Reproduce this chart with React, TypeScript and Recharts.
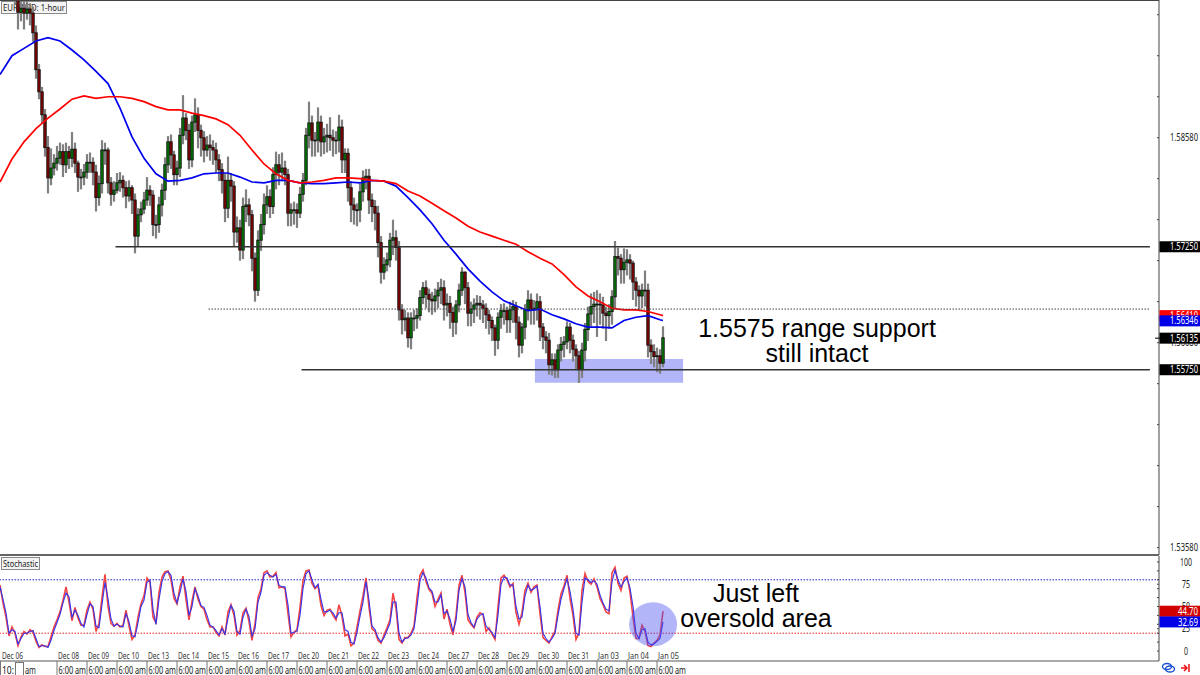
import React from 'react';
import {
  ComposedChart,
  Bar,
  Line,
  XAxis,
  YAxis,
  ReferenceLine,
  ReferenceArea,
  ReferenceDot,
} from 'recharts';

// rates x 10000, one hourly-ish candle per slot
const opens = [
  16045,16043,16041,16038,16038,16036,16033,16011,16016,16010,
  16015,16010,15986,15941,15914,15886,15846,15809,15821,15827,
  15833,15841,15825,15841,15833,15844,15827,15810,15810,15816,
  15828,15828,15816,15785,15802,15843,15843,15803,15789,15794,
  15803,15806,15797,15787,15797,15782,15738,15764,15771,15782,
  15794,15788,15752,15752,15776,15794,15825,15853,15837,15813,
  15821,15861,15882,15867,15831,15877,15886,15867,15858,15843,
  15849,15846,15843,15831,15819,15806,15772,15806,15799,15743,
  15748,15721,15774,15776,15764,15711,15672,15733,15752,15776,
  15786,15774,15813,15825,15816,15821,15813,15766,15770,15770,
  15766,15789,15806,15861,15876,15855,15855,15877,15853,15859,
  15861,15858,15855,15855,15871,15831,15839,15797,15776,15770,
  15770,15792,15809,15811,15782,15774,15766,15730,15694,15703,
  15709,15733,15736,15724,15648,15636,15638,15614,15638,15638,
  15641,15663,15675,15667,15661,15659,15665,15672,15675,15654,
  15656,15645,15633,15654,15672,15694,15675,15644,15649,15654,
  15656,15654,15650,15642,15635,15626,15611,15639,15647,15647,
  15636,15648,15652,15633,15605,15627,15648,15660,15648,15650,
  15658,15627,15615,15611,15581,15587,15575,15599,15606,15609,
  15627,15611,15600,15592,15575,15599,15624,15643,15652,15655,
  15655,15654,15644,15641,15646,15664,15713,15711,15697,15706,
  15709,15705,15682,15672,15665,15672,15672,15605,15597,15591,
  15592,15583,
];
const closes = [
  16043,16041,16038,16038,16036,16033,16011,16016,16010,16015,
  16010,15986,15941,15914,15886,15846,15809,15821,15827,15833,
  15841,15825,15841,15833,15844,15827,15810,15810,15816,15828,
  15828,15816,15785,15802,15843,15843,15803,15789,15794,15803,
  15806,15797,15787,15797,15782,15738,15764,15771,15782,15794,
  15788,15752,15752,15776,15794,15825,15853,15837,15813,15821,
  15861,15882,15867,15831,15877,15886,15867,15858,15843,15849,
  15846,15843,15831,15819,15806,15772,15806,15799,15743,15748,
  15721,15774,15776,15764,15711,15672,15733,15752,15776,15786,
  15774,15813,15825,15816,15821,15813,15766,15770,15770,15766,
  15789,15806,15861,15876,15855,15855,15877,15853,15859,15861,
  15858,15855,15855,15871,15831,15839,15797,15776,15770,15770,
  15792,15809,15811,15782,15774,15766,15730,15694,15703,15709,
  15733,15736,15724,15648,15636,15638,15614,15638,15638,15641,
  15663,15675,15667,15661,15659,15665,15672,15675,15654,15656,
  15645,15633,15654,15672,15694,15675,15644,15649,15654,15656,
  15654,15650,15642,15635,15626,15611,15639,15647,15647,15636,
  15648,15652,15633,15605,15627,15648,15660,15648,15650,15658,
  15627,15615,15611,15581,15587,15575,15599,15606,15609,15627,
  15611,15600,15592,15575,15599,15624,15643,15652,15655,15655,
  15654,15644,15641,15646,15664,15713,15711,15697,15706,15709,
  15705,15682,15672,15665,15672,15672,15605,15597,15591,15592,
  15583,15614,
];
const highs = [
  16050,16048,16046,16045,16043,16040,16040,16026,16025,16026,
  16022,16018,15995,15948,15920,15893,15860,15845,15838,15848,
  15852,15850,15852,15848,15865,15852,15830,15820,15826,15838,
  15840,15834,15825,15812,15855,15852,15846,15810,15805,15815,
  15816,15812,15805,15806,15800,15790,15772,15780,15792,15810,
  15800,15794,15764,15786,15802,15834,15860,15862,15842,15830,
  15870,15910,15888,15875,15885,15906,15895,15874,15866,15860,
  15862,15855,15852,15838,15827,15815,15835,15815,15805,15762,
  15758,15785,15795,15784,15770,15718,15745,15765,15790,15800,
  15795,15822,15841,15838,15840,15830,15820,15778,15780,15778,
  15798,15815,15870,15902,15885,15865,15895,15885,15870,15875,
  15883,15868,15866,15886,15880,15845,15845,15805,15785,15778,
  15802,15818,15820,15820,15790,15782,15775,15738,15712,15718,
  15742,15758,15745,15732,15655,15648,15645,15645,15648,15650,
  15672,15682,15684,15674,15670,15674,15682,15686,15684,15668,
  15665,15652,15660,15680,15700,15695,15682,15658,15662,15666,
  15665,15660,15656,15648,15640,15630,15645,15655,15656,15652,
  15658,15660,15658,15640,15632,15655,15672,15668,15660,15668,
  15665,15632,15622,15620,15595,15595,15606,15615,15616,15634,
  15632,15618,15606,15598,15608,15632,15652,15668,15670,15672,
  15668,15664,15652,15655,15672,15732,15724,15716,15723,15722,
  15716,15708,15688,15678,15680,15696,15680,15612,15606,15602,
  15600,15628,
];
const lows = [
  16030,16030,16028,16028,16026,16020,15990,16000,15990,16002,
  15995,15975,15930,15905,15875,15835,15790,15800,15812,15818,
  15825,15810,15815,15820,15822,15815,15792,15795,15800,15808,
  15815,15800,15768,15775,15790,15825,15790,15775,15780,15790,
  15792,15785,15772,15780,15765,15717,15725,15755,15765,15775,
  15775,15738,15735,15742,15762,15782,15815,15820,15800,15800,
  15810,15850,15855,15820,15822,15865,15845,15835,15828,15835,
  15830,15825,15815,15805,15790,15755,15760,15780,15725,15730,
  15708,15710,15755,15750,15695,15658,15665,15720,15740,15765,
  15760,15765,15795,15800,15805,15800,15750,15750,15752,15748,
  15760,15780,15800,15845,15835,15835,15840,15835,15838,15840,
  15842,15835,15838,15840,15815,15815,15780,15755,15752,15750,
  15755,15780,15795,15765,15755,15745,15712,15680,15685,15695,
  15700,15715,15708,15635,15618,15622,15602,15600,15622,15625,
  15635,15655,15650,15645,15642,15645,15650,15655,15635,15640,
  15625,15615,15618,15645,15665,15655,15628,15628,15632,15640,
  15636,15632,15625,15618,15610,15592,15600,15625,15630,15620,
  15620,15632,15612,15590,15595,15612,15635,15630,15630,15635,
  15610,15600,15595,15569,15568,15565,15565,15585,15590,15600,
  15595,15585,15575,15559,15565,15585,15610,15628,15632,15615,
  15630,15625,15610,15625,15630,15650,15690,15680,15680,15690,
  15685,15660,15652,15648,15650,15652,15590,15582,15578,15572,
  15570,15578,
];

// moving averages, one reading every fourth slot plus the last slot
const maBlue = [
  15935,15958,15967,15976,15980,15976,15965,15953,15939,15924,
  15894,15859,15833,15814,15805,15806,15809,15814,15815,15815,
  15810,15804,15803,15806,15806,15803,15802,15802,15803,15804,
  15803,15806,15805,15799,15785,15770,15753,15733,15716,15698,
  15683,15670,15659,15653,15647,15649,15642,15637,15631,15627,
  15627,15626,15635,15639,15641,15636,15635,
];
const maRed = [
  15804,15832,15853,15869,15882,15893,15905,15909,15906,15908,
  15908,15906,15902,15896,15892,15892,15888,15885,15881,15874,
  15861,15843,15826,15814,15806,15803,15804,15806,15809,15809,
  15808,15806,15805,15802,15793,15787,15778,15769,15760,15750,
  15743,15738,15733,15728,15719,15711,15704,15691,15676,15665,
  15658,15650,15648,15648,15646,15642,15641,
];

const stochBlue = [
  72,58,43,20,24,22,8,14,20,20,
  22,23,14,5,6,6,4,12,23,32,
  41,54,65,61,38,46,40,31,27,41,
  53,50,28,26,52,77,59,36,28,30,
  28,27,42,33,17,16,32,50,57,77,
  80,47,30,58,78,87,89,85,65,54,
  66,81,67,40,50,70,62,51,49,40,
  29,27,23,18,25,19,37,51,45,22,
  19,38,47,39,17,25,55,66,85,88,
  85,83,86,74,72,72,52,20,21,22,
  40,70,87,90,80,71,75,58,44,44,
  46,43,37,43,43,24,22,10,8,21,
  39,55,78,57,28,24,15,10,15,23,
  31,55,55,20,10,14,15,18,25,50,
  79,88,82,71,67,55,55,63,42,45,
  36,22,34,68,81,72,41,32,27,36,
  40,42,28,24,21,15,40,75,83,82,
  74,74,50,36,38,62,74,68,70,73,
  50,20,14,10,14,20,40,58,70,81,
  67,47,20,18,55,82,80,77,79,75,
  63,54,47,45,78,91,80,72,78,82,
  71,50,20,14,24,25,10,7,8,11,
  14,32.69,
];
const stochRed = [
  74,54,38,17,27,20,6,16,22,19,
  24,21,11,4,7,5,5,16,27,35,
  44,57,72,55,34,49,37,29,29,46,
  55,47,22,31,60,86,50,31,28,31,
  27,29,46,28,13,18,38,53,62,82,
  77,38,32,66,83,89,90,80,59,53,
  72,84,58,35,56,72,58,50,47,35,
  27,27,21,17,27,18,44,52,40,18,
  23,43,48,33,12,31,60,70,88,90,
  83,84,88,71,72,70,42,16,21,24,
  49,79,90,91,76,70,74,51,40,46,
  47,40,35,52,39,17,19,6,9,27,
  45,62,82,49,25,22,12,9,18,26,
  35,65,48,13,9,15,15,20,28,60,
  85,91,78,69,65,50,58,65,36,47,
  30,18,40,74,85,66,35,30,26,38,
  43,41,22,26,19,13,50,82,85,80,
  72,76,43,30,43,68,76,66,72,74,
  42,15,12,9,16,22,46,64,73,85,
  59,40,13,20,68,87,78,75,81,72,
  59,52,44,42,88,94,76,68,82,84,
  66,38,14,14,29,22,6,5,9,12,
  18,44.7,
];

const dateSlots = [1, 19, 29, 39, 49, 59, 69, 79, 89, 99, 109, 119, 129, 139, 149, 159, 169, 179, 189, 199, 209, 219];
const dateLabels = [
  'Dec 06', 'Dec 08', 'Dec 09', 'Dec 10', 'Dec 13', 'Dec 14', 'Dec 15', 'Dec 16', 'Dec 17', 'Dec 20', 'Dec 21',
  'Dec 22', 'Dec 23', 'Dec 24', 'Dec 27', 'Dec 28', 'Dec 29', 'Dec 30', 'Dec 31', 'Jan 03', 'Jan 04', 'Jan 05',
];

const priceTicks = [1.6008, 1.5958, 1.5908, 1.5858, 1.5808, 1.5758, 1.5708, 1.5658, 1.5608, 1.5558, 1.5508, 1.5458, 1.5408, 1.5358];
const priceLabelled = [1.5858, 1.5608, 1.5358];
const priceBadges = [
  { value: 1.5725, text: '1.57250', fill: '#000000' },
  { value: 1.5575, text: '1.55750', fill: '#000000' },
  { value: 1.5641, text: '1.56410', fill: '#ff0000' },
  { value: 1.56346, text: '1.56346', fill: '#0000e6' },
  { value: 1.56135, text: '1.56135', fill: '#000000' },
];
const stochTicks = [100, 90, 80, 75, 70, 60, 50, 40, 30, 25, 20, 10, 0];
const stochLabelled = [100, 75, 50, 25, 0];
const stochBadges = [
  { value: 44.7, text: '44.70', fill: '#d00000' },
  { value: 32.69, text: '32.69', fill: '#0000e6' },
];

const candleRows = closes.map((close, i) => ({
  idx: i,
  open: opens[i] / 10000,
  close: close / 10000,
  high: highs[i] / 10000,
  low: lows[i] / 10000,
  range: [lows[i] / 10000, highs[i] / 10000],
}));
const maRows = maBlue.map((v, i) => ({
  idx: Math.min(i * 4, 221),
  blue: v / 10000,
  red: maRed[i] / 10000,
}));
const stochRows = stochBlue.map((v, i) => ({ idx: i, blue: v, red: stochRed[i] }));

const FONT = '"Noto Sans", sans-serif';
const X_DOMAIN: [number, number] = [0, 386.33];

function Candle(props: any) {
  const { x, y, width, height, payload } = props;
  const perUnit = height / (payload.high - payload.low);
  const top = y + (payload.high - Math.max(payload.open, payload.close)) * perUnit;
  const bodyH = Math.max(Math.abs(payload.open - payload.close) * perUnit, 0.8);
  const cx = x + width / 2;
  const up = payload.close >= payload.open;
  return (
    <g>
      <line x1={cx} x2={cx} y1={y} y2={y + height} stroke="#808080" strokeWidth={2.2} />
      <rect x={cx - 1.2} y={top} width={2.4} height={bodyH} fill={up ? '#008000' : '#8c0000'} stroke="#101010" strokeWidth={0.9} />
    </g>
  );
}

// the platform's font is narrow, so axis texts are squeezed to its widths
function AxisText({ x, y, anchor, fill, children }: any) {
  return (
    <text
      x={x}
      y={y}
      textAnchor={anchor}
      fontSize={10}
      fontFamily={FONT}
      fill={fill}
      textLength={String(children).length * 4}
      lengthAdjust="spacingAndGlyphs"
    >
      {children}
    </text>
  );
}

function AxisBadge({ x, y, text, fill }: any) {
  return (
    <g>
      <rect x={x + 0.5} y={y - 5.5} width={41} height={11} fill={fill} />
      <AxisText x={x + 39} y={y + 3.6} anchor="end" fill="#ffffff">{text}</AxisText>
    </g>
  );
}

function PriceTick(props: any) {
  const { x, y, payload } = props;
  const badge = priceBadges.find((b) => b.value === payload.value);
  if (badge) {
    return (
      <g>
        {badge.value === 1.56135 && <line x1={x - 4} x2={x + 2} y1={y} y2={y} stroke="#000" />}
        <AxisBadge x={x} y={y} text={badge.text} fill={badge.fill} />
      </g>
    );
  }
  return (
    <g>
      <line x1={x - 2} x2={x} y1={y} y2={y} stroke="#444" />
      {priceLabelled.includes(payload.value) && (
        <AxisText x={x + 39} y={y + 3.6} anchor="end" fill="#222">{payload.value.toFixed(5)}</AxisText>
      )}
    </g>
  );
}

function StochTick(props: any) {
  const { x, y, payload } = props;
  const badge = stochBadges.find((b) => b.value === payload.value);
  if (badge) return <AxisBadge x={x} y={y} text={badge.text} fill={badge.fill} />;
  return (
    <g>
      <line x1={x - 2} x2={x} y1={y} y2={y} stroke="#444" />
      {stochLabelled.includes(payload.value) && (
        <AxisText x={x + 27} y={y + 3.6} anchor="middle" fill="#222">{payload.value}</AxisText>
      )}
    </g>
  );
}

function TimeTick(props: any) {
  const { x, y, index } = props;
  const first = index === 0;
  return (
    <g fontFamily={FONT} fill="#222">
      <text x={x - (first ? 1 : -1)} y={y - 2} fontSize={9} fill="#333" textLength={21} lengthAdjust="spacingAndGlyphs">
        {dateLabels[index]}
      </text>
      {first ? (
        <g>
          <text x={2} y={y + 12.5} fontSize={10} textLength={12} lengthAdjust="spacingAndGlyphs">10:</text>
          <rect x={15.5} y={y + 1.5} width={8} height={13} fill="#fff" stroke="#777" strokeWidth={1} />
          <text x={25} y={y + 12.5} fontSize={10} textLength={11} lengthAdjust="spacingAndGlyphs">am</text>
          <line x1={0.5} x2={0.5} y1={y} y2={y + 15} stroke="#777" />
        </g>
      ) : (
        <g>
          <line x1={x} x2={x} y1={y} y2={y + 15} stroke="#777" />
          <text x={x + 1.5} y={y + 12.5} fontSize={10} textLength={27.5} lengthAdjust="spacingAndGlyphs">6:00 am</text>
        </g>
      )}
    </g>
  );
}

function PanelTag({ left, top, width, length, text }: any) {
  return (
    <svg style={{ position: 'absolute', left, top }} width={width} height={13}>
      <rect x={0.5} y={0.5} width={width - 1} height={12} fill="#f4f4f4" stroke="#8a8a8a" />
      <text x={2} y={9.6} fontSize={9.5} fontFamily={FONT} fill="#222" textLength={length} lengthAdjust="spacingAndGlyphs">
        {text}
      </text>
    </svg>
  );
}

const Blob = (props: any) => (
  <ellipse cx={props.cx} cy={props.cy} rx={24} ry={22} fill="#4a4ff0" fillOpacity={0.42} />
);

const noteStyle: React.CSSProperties = {
  position: 'absolute',
  textAlign: 'center',
  fontFamily: '"Liberation Sans", Arial, sans-serif',
  fontSize: 25,
  lineHeight: '25px',
  color: '#000',
  whiteSpace: 'nowrap',
};

export default function App() {
  return (
    <div style={{ position: 'absolute', left: 0, top: 0, width: 1200, height: 675, overflow: 'hidden', background: '#fff' }}>
      <PanelTag left={1} top={1} width={66} length={62} text="EUR/NZD: 1-hour" />
      <PanelTag left={1} top={557} width={39} length={35} text="Stochastic" />

      <div style={{ position: 'absolute', left: 0, top: 0 }}>
        <ComposedChart width={1200} height={556} data={candleRows} margin={{ top: 0, right: 0, bottom: 0, left: 0 }}>
          <XAxis
            dataKey="idx"
            type="number"
            domain={X_DOMAIN}
            allowDataOverflow
            height={1}
            tick={false}
            tickLine={false}
            axisLine={{ stroke: '#666', strokeWidth: 2 }}
          />
          <YAxis
            orientation="right"
            width={41}
            domain={[1.5349, 1.6026]}
            allowDataOverflow
            ticks={[...priceTicks, ...priceBadges.map((b) => b.value)]}
            interval={0}
            tick={PriceTick}
            tickLine={false}
            tickSize={0}
            tickMargin={0}
            axisLine={{ stroke: '#444' }}
          />
          <YAxis
            yAxisId="marks"
            orientation="left"
            mirror
            width={0}
            domain={[1.5349, 1.6026]}
            allowDataOverflow
            ticks={priceTicks}
            interval={0}
            tick={false}
            tickSize={3}
            tickLine={{ stroke: '#555' }}
            axisLine={false}
          />
          <ReferenceLine y={1.6026} stroke="#444" strokeWidth={2} />
          <Bar dataKey="range" barSize={3} isAnimationActive={false} shape={(p: any) => <Candle {...p} />} />
          <Line data={maRows} dataKey="blue" stroke="#0000f0" strokeWidth={1.7} dot={false} activeDot={false} isAnimationActive={false} />
          <Line data={maRows} dataKey="red" stroke="#ff0000" strokeWidth={1.7} dot={false} activeDot={false} isAnimationActive={false} />
          <ReferenceLine segment={[{ x: 38.5, y: 1.5725 }, { x: 383.3, y: 1.5725 }]} stroke="#333" strokeWidth={1.3} />
          <ReferenceLine segment={[{ x: 69.5, y: 1.5649 }, { x: 383.3, y: 1.5649 }]} stroke="#444" strokeDasharray="1.5 1.5" />
          <ReferenceLine segment={[{ x: 100.5, y: 1.5575 }, { x: 383.3, y: 1.5575 }]} stroke="#333" strokeWidth={1.3} />
          <ReferenceArea x1={178.3} x2={227.7} y1={1.5559} y2={1.5588} fill="#4a4ff0" fillOpacity={0.42} stroke="none" />
        </ComposedChart>
      </div>

      <div style={{ position: 'absolute', left: 0, top: 556 }}>
        <ComposedChart width={1200} height={119} data={stochRows} margin={{ top: 0, right: 0, bottom: 0, left: 0 }}>
          <XAxis
            dataKey="idx"
            type="number"
            domain={X_DOMAIN}
            allowDataOverflow
            height={14}
            ticks={dateSlots}
            interval={0}
            tick={TimeTick}
            tickLine={false}
            tickSize={0}
            tickMargin={0}
            axisLine={{ stroke: '#555' }}
          />
          <YAxis
            orientation="right"
            width={41}
            domain={[-11.2, 106.7]}
            allowDataOverflow
            ticks={[...stochTicks, ...stochBadges.map((b) => b.value)]}
            interval={0}
            tick={StochTick}
            tickLine={false}
            tickSize={0}
            tickMargin={0}
            axisLine={{ stroke: '#444' }}
          />
          <ReferenceLine y={80} stroke="#2222c8" strokeDasharray="1.5 1.5" />
          <ReferenceLine y={20} stroke="#e02020" strokeDasharray="1.5 1.5" />
          <Line dataKey="red" stroke="#f44444" strokeWidth={1.6} dot={false} activeDot={false} isAnimationActive={false} />
          <Line dataKey="blue" stroke="#3333ee" strokeWidth={1.1} dot={false} activeDot={false} isAnimationActive={false} />
          <ReferenceDot x={217.7} y={30} r={24} shape={Blob} />
        </ComposedChart>
      </div>

      <div style={{ ...noteStyle, left: 680, top: 316, width: 274 }}>
        1.5575 range support
        <br />
        still intact
      </div>
      <div style={{ ...noteStyle, left: 660, top: 581, width: 192 }}>
        Just left
        <br />
        oversold area
      </div>

      <svg style={{ position: 'absolute', left: 1160, top: 661 }} width={32} height={14}>
        <ellipse cx={7} cy={5.5} rx={4.5} ry={3} fill="none" stroke="#1a50d0" strokeWidth={1.4} />
        <ellipse cx={10} cy={8} rx={4.5} ry={3} fill="none" stroke="#1a50d0" strokeWidth={1.4} />
        <path d="M21 7h6M24 4l3 3-3 3M29 3v8" fill="none" stroke="#ee1111" strokeWidth={1.5} />
      </svg>
    </div>
  );
}
